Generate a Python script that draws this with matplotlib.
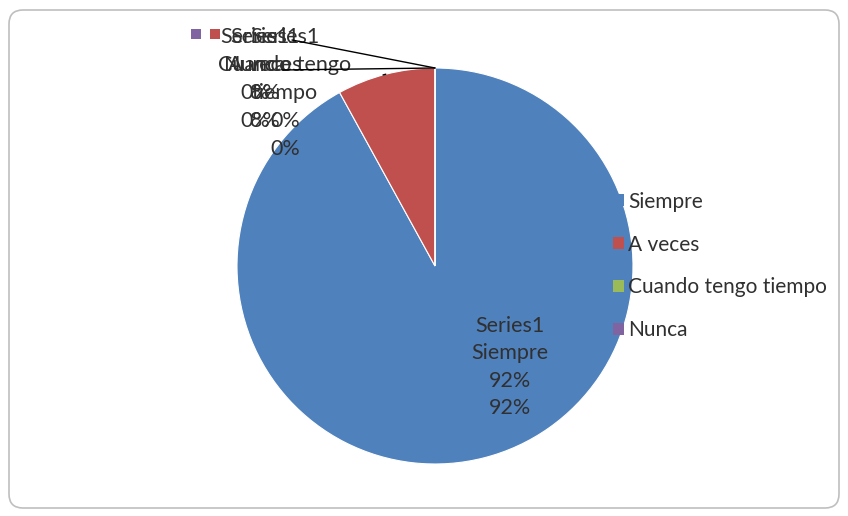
import matplotlib.pyplot as plt
from matplotlib.patches import FancyBboxPatch, Patch, Rectangle
import numpy as np

# Data
categories = ['Siempre', 'A veces', 'Cuando tengo tiempo', 'Nunca']
values = [92, 8, 0, 0]
series_name = 'Series1'
colors = ['#4F81BD', '#C0504D', '#9BBB59', '#8064A2']

# label text blocks (top-left labels that overlap in the original)
label_lines = {
    'Siempre': [series_name, 'Siempre', '92%', '92%'],
    'A veces': [series_name, 'A veces', '8%', '8%'],
    'Cuando tengo tiempo': [series_name, 'Cuando tengo', 'tiempo', '0%', '0%'],
    'Nunca': [series_name, 'Nunca', '0%', '0%'],
}

W, H = 848, 516
plt.rcParams['font.family'] = ['Lato', 'DejaVu Sans']
fig = plt.figure(figsize=(W / 100, H / 100), dpi=100)
ax = fig.add_axes([0, 0, 1, 1])

cx, cy, r = 435, H - 266, 198
wedges, _ = ax.pie(values, colors=colors, startangle=90, counterclock=False,
                   center=(cx, cy), radius=r,
                   wedgeprops={'linewidth': 0.8, 'edgecolor': 'white'})
ax.set_xlim(0, W)
ax.set_ylim(0, H)
ax.set_aspect('equal')
ax.axis('off')

# outer rounded frame
frame = FancyBboxPatch((9, 8), W - 18, H - 18, boxstyle='round,pad=0,rounding_size=14',
                       facecolor='none', edgecolor='#bfbfbf', linewidth=1.2)
ax.add_patch(frame)

fs = 15.5
ls = 1.45
txt_col = '#303030'
# label inside the big slice
ax.text(510, H - 367, '\n'.join(label_lines['Siempre']), ha='center', va='center',
        fontsize=fs, color=txt_col, linespacing=ls)

# overlapping labels at top-left
label_pos = {'Nunca': (255, H - 27), 'A veces': (265, H - 27), 'Cuando tengo tiempo': (285, H - 27)}
for cat, (tx, ty) in label_pos.items():
    ax.text(tx, ty, '\n'.join(label_lines[cat]), ha='center', va='top',
            fontsize=fs, color=txt_col, linespacing=1.5)

# legend keys shown in those labels
for (kx, ky), c in zip([(191, H - 39), (210, H - 39)], [colors[3], colors[1]]):
    ax.add_patch(Rectangle((kx, ky), 10, 10, facecolor=c, edgecolor='none'))

# leader lines
tops = {'A veces': (383, H - 75), 'Nunca': (292, H - 40), 'Cuando tengo tiempo': (282, H - 70)}
for w, cat in zip(wedges, categories):
    if cat not in tops:
        continue
    ang = np.deg2rad((w.theta1 + w.theta2) / 2)
    px, py = cx + r * np.cos(ang), cy + r * np.sin(ang)
    ax.annotate('', xy=(px, py), xytext=tops[cat],
                arrowprops=dict(arrowstyle='-', color='black', lw=1.0,
                                shrinkA=0, shrinkB=0))

handles = [Patch(facecolor=c, edgecolor='none') for c in colors]
leg = ax.legend(handles, categories, loc='center left', bbox_to_anchor=(605 / W, 1 - 266 / H),
                frameon=False, fontsize=15, handlelength=0.5, handleheight=0.5,
                handletextpad=0.2, labelspacing=1.1, borderaxespad=0,
                labelcolor=txt_col)

fig.savefig('out.png', dpi=100)
